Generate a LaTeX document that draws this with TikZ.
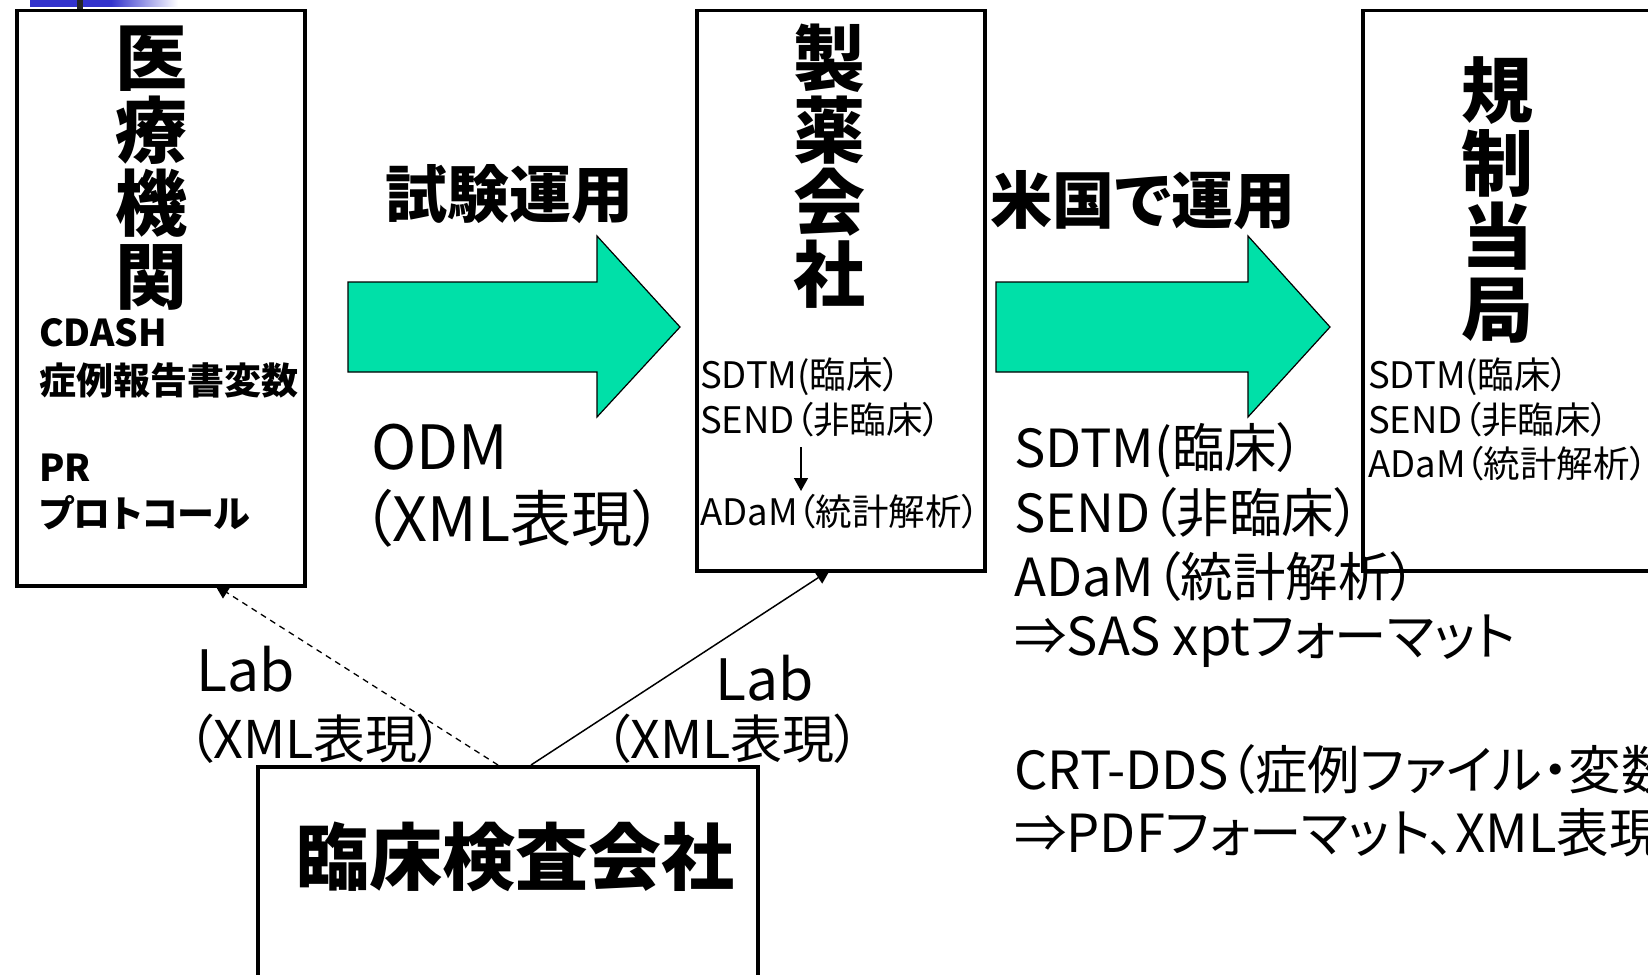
\documentclass[tikz,border=0pt]{standalone}
\usepackage{fontspec}
\setmainfont{Noto Sans CJK JP}[RawFeature={+palt}]
\usetikzlibrary{arrows.meta}
\definecolor{arrowgreen}{HTML}{00E0A8}
\definecolor{topblue}{HTML}{3333CC}
\newcommand{\fs}[2]{\fontsize{#1}{#2}\selectfont}
\begin{document}
\begin{tikzpicture}[x=1pt,y=-1pt,
  box/.style={draw=black, line width=3.5pt, fill=white, inner sep=0pt, anchor=north west},
  vtitle/.style={font=\bfseries\fs{72}{73}, align=center, inner sep=0pt},
  txt/.style={inner sep=0pt, anchor=west},
  conn/.style={line width=1.5pt, -{Triangle[length=14pt,width=14pt]}},
  bigarrow/.style={fill=arrowgreen, draw=black, line width=1.2pt, line join=miter}
]
\useasboundingbox (0,0) rectangle (1648,974);
\clip (0,0) rectangle (1648,974);
\fill[white] (0,0) rectangle (1648,974);

% top-left decoration
\fill[topblue] (30,0) rectangle (112,7);
\shade[left color=topblue, right color=white] (111,0) rectangle (178,7);
\fill[black!85] (77,0) rectangle (83,20);

% boxes
\node[box, minimum width=288pt, minimum height=575pt] (med) at (15,9) {};
\node[box, minimum width=288pt, minimum height=560pt] (pharma) at (695,9) {};
\node[box, minimum width=320pt, minimum height=560pt] (reg) at (1361,9) {};
\node[box, minimum width=500pt, minimum height=240pt] (lab) at (256,765) {};

% big arrows
\draw[bigarrow] (348,282) -- (597,282) -- (597,236) -- (680,327) -- (597,417) -- (597,372) -- (348,372) -- cycle;
\draw[bigarrow] (996,282) -- (1248,282) -- (1248,236) -- (1330,327) -- (1248,417) -- (1248,372) -- (996,372) -- cycle;

% titles
\node[vtitle] (medT) at (151,168) {医\\療\\機\\関};
\node[vtitle, font=\bfseries\fs{72}{72}] (pharmaT) at (829,166) {製\\薬\\会\\社};
\node[vtitle] (regT) at (1497,200) {規\\制\\当\\局};
\node[inner sep=0pt, font=\bfseries\fs{73}{80}] (labT) at (515,857) {臨床検査会社};

% box 1 contents
\node[txt, font=\bfseries\fs{37}{40}] (cdash) at (39,333) {CDASH};
\node[txt, font=\bfseries\fs{37}{40}] (crf) at (39,380) {症例報告書変数};
\node[txt, font=\bfseries\fs{37}{40}] (pr) at (39,468) {PR};
\node[txt, font=\bfseries\fs{37}{40}] (proto) at (39,513) {プロトコール};

% box 2 contents
\node[txt, font=\fs{36.5}{40}] (p1) at (700,376) {SDTM(臨床）};
\node[txt, font=\fs{36.5}{40}] (p2) at (700,420) {SEND（非臨床）};
\node[txt, font=\fs{36.5}{40}] (p3) at (700,512) {ADaM（統計解析）};
\coordinate (pa1) at (801,447);
\coordinate (pa2) at (801,491);
\draw[line width=1.5pt, -{Triangle[length=13pt,width=14pt]}] (pa1) -- (pa2);

% box 3 contents
\node[txt, font=\fs{36.5}{40}] (r1) at (1368,376) {SDTM(臨床）};
\node[txt, font=\fs{36.5}{40}] (r2) at (1368,420) {SEND（非臨床）};
\node[txt, font=\fs{36.5}{40}] (r3) at (1368,464) {ADaM（統計解析）};

% arrow labels
\node[inner sep=0pt, font=\bfseries\fs{62}{66}] (trial) at (509,194) {試験運用};
\node[inner sep=0pt, font=\bfseries\fs{62}{66}] (us) at (1143,200) {米国で運用};
\node[txt, font=\fs{61}{64}] (odm) at (371,447) {ODM};
\node[txt, font=\fs{61}{64}] (odmx) at (362,518) {（XML表現）};

% right block
\node[txt, font=\fs{52.5}{60}] (s1) at (1014,450) {SDTM(臨床）};
\node[txt, font=\fs{52.5}{60}] (s2) at (1014,513) {SEND（非臨床）};
\node[txt, font=\fs{52.5}{60}] (s3) at (1014,577) {ADaM（統計解析）};
\node[txt, font=\fs{52.5}{60}] (s4) at (1014,641) {⇒SAS xptフォーマット};
\node[txt, font=\fs{52.5}{60}] (s5) at (1014,770) {CRT-DDS（症例ファイル・変数};
\node[txt, font=\fs{52.5}{60}] (s6) at (1014,833) {⇒PDFフォーマット、XML表現};

% connectors
\coordinate (d1s) at (498,765);
\coordinate (d1e) at (215,585);
\coordinate (d2s) at (531,765);
\coordinate (d2e) at (830,570);
\draw[conn, dash pattern=on 6pt off 5pt, line width=1.3pt] (d1s) -- (d1e);
\draw[conn] (d2s) -- (d2e);

% Lab labels
\node[txt, font=\fs{57}{60}] (labL1) at (196,669) {Lab};
\node[txt, font=\fs{52}{56}] (labL2) at (187,739) {（XML表現）};
\node[txt, font=\fs{57}{60}] (labR1) at (715,678) {Lab};
\node[txt, font=\fs{52}{56}] (labR2) at (604,739) {（XML表現）};
\end{tikzpicture}
\end{document}
